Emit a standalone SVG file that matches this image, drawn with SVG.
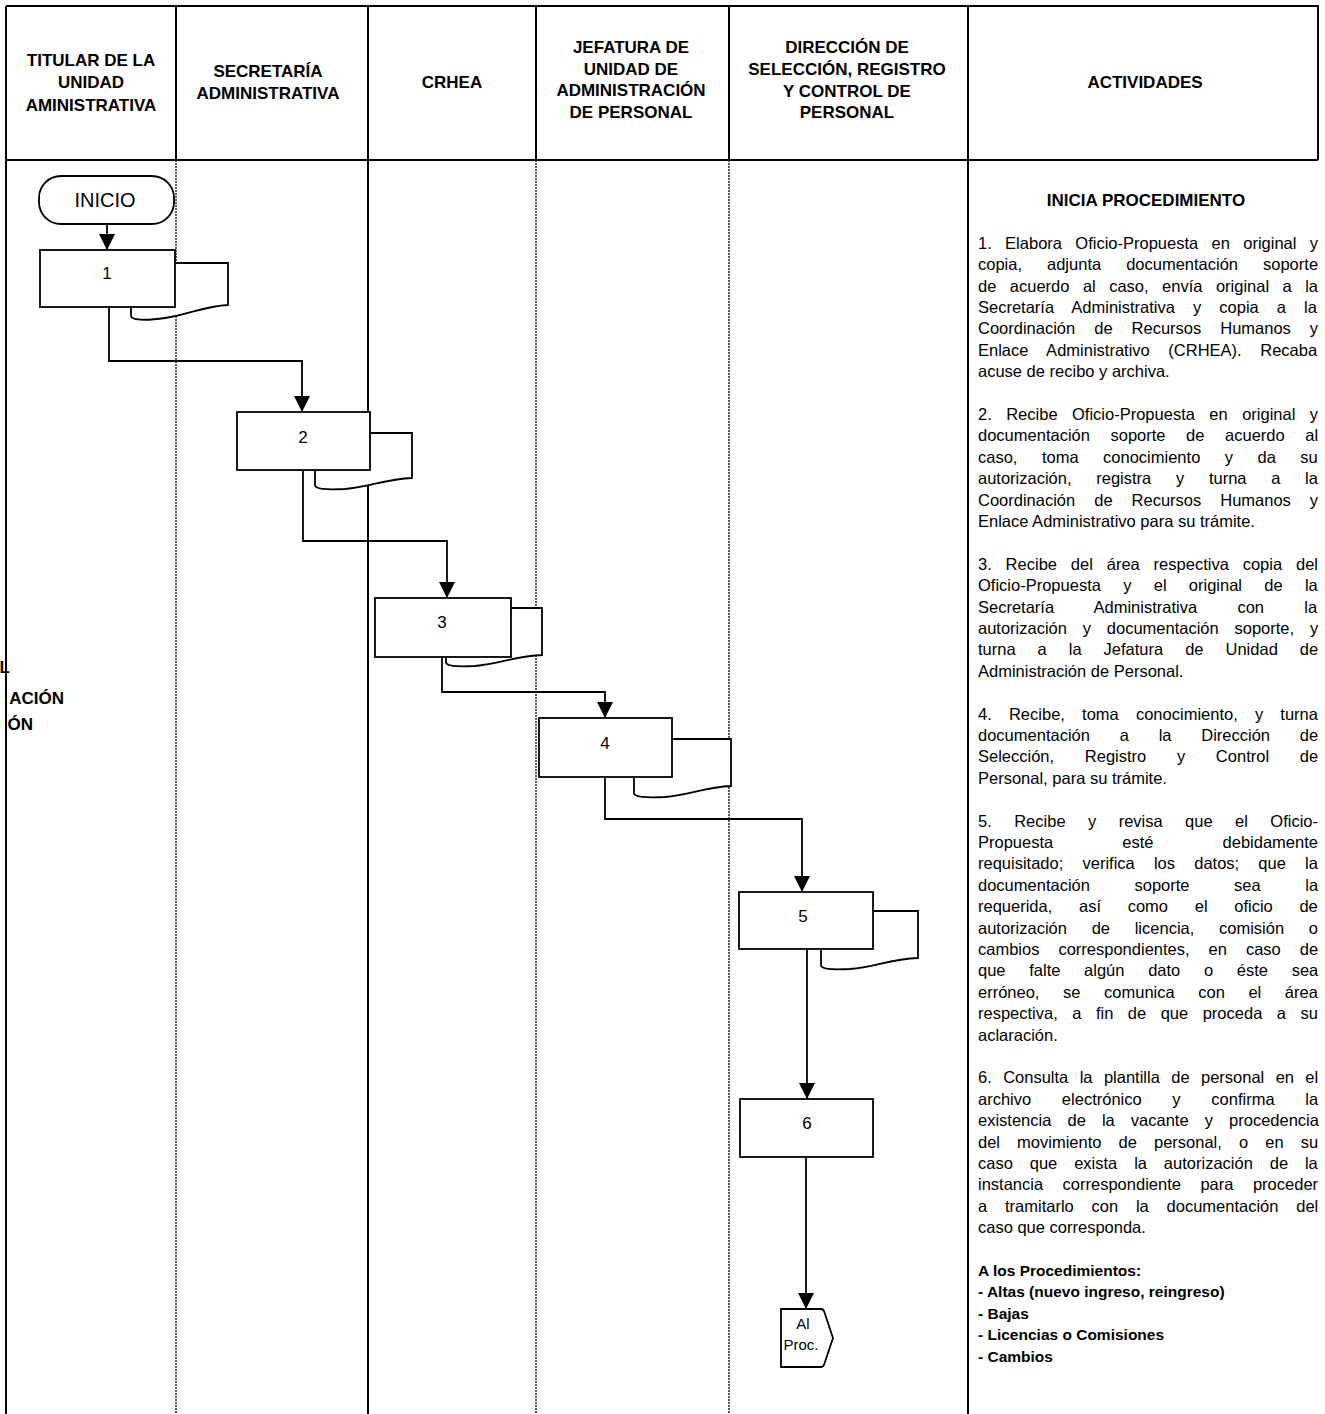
<svg xmlns="http://www.w3.org/2000/svg" width="1325" height="1414" viewBox="0 0 1325 1414">
<defs>
<marker id="arr" markerUnits="userSpaceOnUse" markerWidth="16" markerHeight="16" refX="16" refY="8" orient="auto">
<path d="M0,0 L16,8 L0,16 Z" fill="#000"/>
</marker>
<style>
.frame{fill:none;stroke:#000;stroke-width:2}
.solid{stroke:#000;stroke-width:2;fill:none}
.dot{stroke:#333;stroke-width:1.6;stroke-dasharray:2 1;fill:none}
.box{fill:#fff;stroke:#000;stroke-width:1.8}
.doc{fill:#fff;stroke:#000;stroke-width:1.8}
.conn{fill:none;stroke:#000;stroke-width:1.8}
.hdr{font-family:"Liberation Sans",Arial,sans-serif;font-weight:bold;font-size:17px;text-anchor:middle;fill:#000}
.num{font-family:"Liberation Sans",Arial,sans-serif;font-size:17px;text-anchor:middle;fill:#000}
.small{font-family:"Liberation Sans",Arial,sans-serif;font-size:15px;text-anchor:middle;fill:#000}
.big{font-family:"Liberation Sans",Arial,sans-serif;font-size:20px;text-anchor:middle;fill:#000}
.act{font-family:"Liberation Sans",Arial,sans-serif;font-size:16.5px;fill:#000}
.actb{font-family:"Liberation Sans",Arial,sans-serif;font-size:15.5px;font-weight:bold;fill:#000}
.title{font-family:"Liberation Sans",Arial,sans-serif;font-size:17px;font-weight:bold;fill:#000;text-anchor:middle}
.frag{font-family:"Liberation Sans",Arial,sans-serif;font-size:17px;font-weight:bold;fill:#000;text-anchor:end}
</style>
</defs>
<rect width="1325" height="1414" fill="#fff"/>

<g id="fragments">
<text class="frag" x="10" y="673">L</text>
<text class="frag" x="64" y="704">ACIÓN</text>
<text class="frag" x="33" y="730">ÓN</text>
</g>

<g id="table">
<path class="frame" d="M6,6 H1318 V160"/>
<path class="frame" d="M6,160 H1318"/>
<line class="solid" x1="6" y1="6" x2="6" y2="1414"/>
<line class="solid" x1="176" y1="6" x2="176" y2="160"/>
<line class="dot" x1="176" y1="160" x2="176" y2="1414"/>
<line class="solid" x1="368" y1="6" x2="368" y2="1414"/>
<line class="solid" x1="536" y1="6" x2="536" y2="160"/>
<line class="dot" x1="536" y1="160" x2="536" y2="1414"/>
<line class="solid" x1="729" y1="6" x2="729" y2="160"/>
<line class="dot" x1="729" y1="160" x2="729" y2="1414"/>
<line class="solid" x1="968" y1="6" x2="968" y2="1414"/>
</g>

<g id="headers">
<text class="hdr" x="91"><tspan x="91" y="66">TITULAR DE LA</tspan><tspan x="91" y="88">UNIDAD</tspan><tspan x="91" y="111">AMINISTRATIVA</tspan></text>
<text class="hdr" x="268"><tspan x="268" y="77">SECRETARÍA</tspan><tspan x="268" y="99">ADMINISTRATIVA</tspan></text>
<text class="hdr" x="452" y="88">CRHEA</text>
<text class="hdr" x="631"><tspan x="631" y="53">JEFATURA DE</tspan><tspan x="631" y="75">UNIDAD DE</tspan><tspan x="631" y="96">ADMINISTRACIÓN</tspan><tspan x="631" y="118">DE PERSONAL</tspan></text>
<text class="hdr" x="847"><tspan x="847" y="53">DIRECCIÓN DE</tspan><tspan x="847" y="75">SELECCIÓN, REGISTRO</tspan><tspan x="847" y="97">Y CONTROL DE</tspan><tspan x="847" y="118">PERSONAL</tspan></text>
<text class="hdr" x="1145" y="88">ACTIVIDADES</text>
</g>

<g id="connectors">
<path class="conn" d="M107,224 V250" marker-end="url(#arr)"/>
<path class="conn" d="M109,307 V361 H302 V412" marker-end="url(#arr)"/>
<path class="conn" d="M303,470 V541 H447 V598" marker-end="url(#arr)"/>
<path class="conn" d="M442,657 V692 H605 V718" marker-end="url(#arr)"/>
<path class="conn" d="M605,777 V819 H802 V892" marker-end="url(#arr)"/>
<path class="conn" d="M807,949 V1099" marker-end="url(#arr)"/>
<path class="conn" d="M806,1157 V1309" marker-end="url(#arr)"/>
</g>

<g id="inicio">
<rect class="box" x="39" y="176" width="135" height="48" rx="22" ry="22"/>
<text class="big" x="105" y="207">INICIO</text>
</g>

<g id="n1">
<path class="doc" d="M175,263 H228 V305 C205,306 190,314 165,318 C145,321 131,320 131,316 V307"/>
<rect class="box" x="40" y="250" width="135" height="57"/>
<text class="num" x="107" y="279">1</text>
</g>

<g id="n2">
<path class="doc" d="M370,433 H412 V478 C385,479 370,487 345,489 C325,490 315,489 315,485 V470"/>
<rect class="box" x="237" y="412" width="133" height="58"/>
<text class="num" x="303" y="443">2</text>
</g>

<g id="n3">
<path class="doc" d="M511,608 H542 V655 C515,656 500,664 475,666 C455,667 446,666 446,662 V657"/>
<rect class="box" x="375" y="598" width="136" height="59"/>
<text class="num" x="442" y="628">3</text>
</g>

<g id="n4">
<path class="doc" d="M672,739 H731 V786 C705,787 690,795 665,797 C645,798 634,797 634,793 V777"/>
<rect class="box" x="539" y="718" width="133" height="59"/>
<text class="num" x="605" y="749">4</text>
</g>

<g id="n5">
<path class="doc" d="M873,911 H918 V958 C890,959 875,967 850,969 C830,970 821,969 821,965 V949"/>
<rect class="box" x="739" y="892" width="134" height="57"/>
<text class="num" x="803" y="922">5</text>
</g>

<g id="n6">
<rect class="box" x="740" y="1099" width="133" height="58"/>
<text class="num" x="807" y="1129">6</text>
</g>

<g id="alproc">
<path class="box" d="M781,1309 H821 Q823,1309 824,1311 L833,1338 L824,1365 Q823,1367 821,1367 H781 Z"/>
<text class="small" x="803" y="1329">Al</text>
<text class="small" x="801" y="1350">Proc.</text>
</g>

<g id="actividades">
<text class="title" x="1146" y="206">INICIA PROCEDIMIENTO</text>

<text class="act" x="978" y="248.8" word-spacing="8.76">1. Elabora Oficio-Propuesta en original y</text>
<text class="act" x="978" y="270.2" word-spacing="20.4">copia, adjunta documentación soporte</text>
<text class="act" x="978" y="291.6" word-spacing="8.87">de acuerdo al caso, envía original a la</text>
<text class="act" x="978" y="313" word-spacing="13.5">Secretaría Administrativa y copia a la</text>
<text class="act" x="978" y="334.4" word-spacing="14.4">Coordinación de Recursos Humanos y</text>
<text class="act" x="978" y="355.8" word-spacing="14">Enlace Administrativo (CRHEA). Recaba</text>
<text class="act" x="978" y="377.2">acuse de recibo y archiva.</text>

<text class="act" x="978" y="420" word-spacing="9.86">2. Recibe Oficio-Propuesta en original y</text>
<text class="act" x="978" y="441.4" word-spacing="16">documentación soporte de acuerdo al</text>
<text class="act" x="978" y="462.8" word-spacing="19.9">caso, toma conocimiento y da su</text>
<text class="act" x="978" y="484.2" word-spacing="20.1">autorización, registra y turna a la</text>
<text class="act" x="978" y="505.6" word-spacing="14.4">Coordinación de Recursos Humanos y</text>
<text class="act" x="978" y="527">Enlace Administrativo para su trámite.</text>

<text class="act" x="978" y="569.8" word-spacing="9.28">3. Recibe del área respectiva copia del</text>
<text class="act" x="978" y="591.2" word-spacing="17.7">Oficio-Propuesta y el original de la</text>
<text class="act" x="978" y="612.6" word-spacing="35.7">Secretaría Administrativa con la</text>
<text class="act" x="978" y="634" word-spacing="11.2">autorización y documentación soporte, y</text>
<text class="act" x="978" y="655.4" word-spacing="17.4">turna a la Jefatura de Unidad de</text>
<text class="act" x="978" y="676.8">Administración de Personal.</text>

<text class="act" x="978" y="719.6" word-spacing="12.6">4. Recibe, toma conocimiento, y turna</text>
<text class="act" x="978" y="741" word-spacing="25.2">documentación a la Dirección de</text>
<text class="act" x="978" y="762.4" word-spacing="26.1">Selección, Registro y Control de</text>
<text class="act" x="978" y="783.8">Personal, para su trámite.</text>

<text class="act" x="978" y="826.6" word-spacing="17.85">5. Recibe y revisa que el Oficio-</text>
<text class="act" x="978" y="848" word-spacing="64.5">Propuesta esté debidamente</text>
<text class="act" x="978" y="869.4" word-spacing="14.6">requisitado; verifica los datos; que la</text>
<text class="act" x="978" y="890.8" word-spacing="40">documentación soporte sea la</text>
<text class="act" x="978" y="912.2" word-spacing="22.1">requerida, así como el oficio de</text>
<text class="act" x="978" y="933.6" word-spacing="20.1">autorización de licencia, comisión o</text>
<text class="act" x="978" y="955" word-spacing="14.4">cambios correspondientes, en caso de</text>
<text class="act" x="978" y="976.4" word-spacing="19.1">que falte algún dato o éste sea</text>
<text class="act" x="978" y="997.8" word-spacing="19">erróneo, se comunica con el área</text>
<text class="act" x="978" y="1019.2" word-spacing="9.9">respectiva, a fin de que proceda a su</text>
<text class="act" x="978" y="1040.6">aclaración.</text>

<text class="act" x="978" y="1083.4" word-spacing="6.8">6. Consulta la plantilla de personal en el</text>
<text class="act" x="978" y="1104.8" word-spacing="26.1">archivo electrónico y confirma la</text>
<text class="act" x="978" y="1126.2" word-spacing="11.5">existencia de la vacante y procedencia</text>
<text class="act" x="978" y="1147.6" word-spacing="12.5">del movimiento de personal, o en su</text>
<text class="act" x="978" y="1169" word-spacing="12.3">caso que exista la autorización de la</text>
<text class="act" x="978" y="1190.4" word-spacing="14.9">instancia correspondiente para proceder</text>
<text class="act" x="978" y="1211.8" word-spacing="13.2">a tramitarlo con la documentación del</text>
<text class="act" x="978" y="1233.2">caso que corresponda.</text>

<text class="actb" x="978" y="1276">A los Procedimientos:</text>
<text class="actb" x="978" y="1297.4">- Altas (nuevo ingreso, reingreso)</text>
<text class="actb" x="978" y="1318.8">- Bajas</text>
<text class="actb" x="978" y="1340.2">- Licencias o Comisiones</text>
<text class="actb" x="978" y="1361.6">- Cambios</text>
</g>
</svg>
